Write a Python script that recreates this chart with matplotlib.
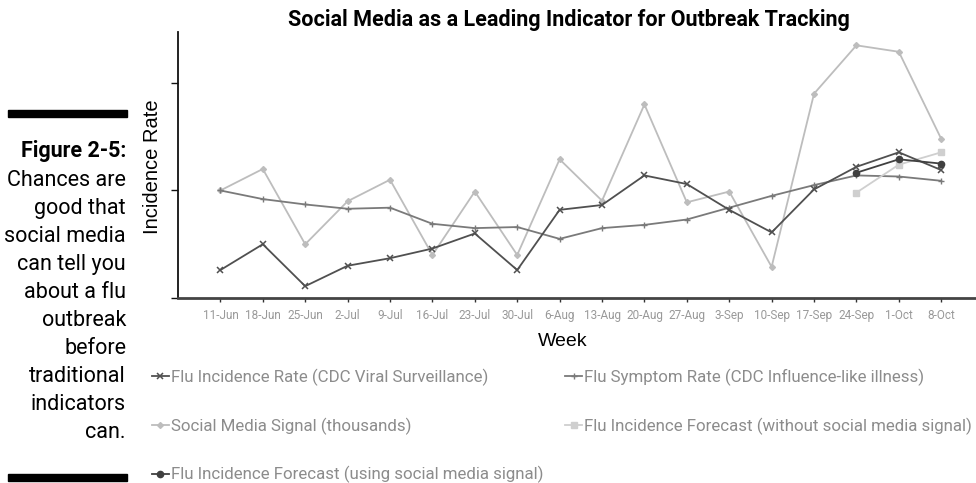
import matplotlib
matplotlib.use("Agg")
import matplotlib.pyplot as plt
from matplotlib import font_manager

names = {f.name for f in font_manager.fontManager.ttflist}
NARROW = "Liberation Sans Narrow" if "Liberation Sans Narrow" in names else "Roboto"
REG = "Liberation Sans"

weeks = ["11-Jun", "18-Jun", "25-Jun", "2-Jul", "9-Jul", "16-Jul", "23-Jul", "30-Jul",
         "6-Aug", "13-Aug", "20-Aug", "27-Aug", "3-Sep", "10-Sep", "17-Sep", "24-Sep",
         "1-Oct", "8-Oct"]
cdc_viral = [0.26, 0.50, 0.11, 0.30, 0.37, 0.46, 0.60, 0.26, 0.82, 0.865, 1.14, 1.06,
             0.82, 0.61, 1.01, 1.22, 1.355, 1.19]
symptom = [1.00, 0.92, 0.87, 0.83, 0.84, 0.69, 0.65, 0.66, 0.55, 0.65, 0.68, 0.73,
           0.84, 0.95, 1.05, 1.14, 1.13, 1.09]
social = [1.00, 1.20, 0.50, 0.90, 1.10, 0.40, 0.99, 0.40, 1.29, 0.905, 1.80, 0.89,
          0.99, 0.29, 1.90, 2.35, 2.29, 1.48]
forecast_weeks = ["24-Sep", "1-Oct", "8-Oct"]
forecast_without = [0.98, 1.24, 1.355]
forecast_with = [1.165, 1.29, 1.25]

labels = ["Flu Incidence Rate (CDC Viral Surveillance)",
          "Flu Symptom Rate (CDC Influence-like illness)",
          "Social Media Signal (thousands)",
          "Flu Incidence Forecast (without social media signal)",
          "Flu Incidence Forecast (using social media signal)"]

fig = plt.figure(figsize=(9.76, 4.83), dpi=100)
ax = fig.add_axes([178/976, 1-298/483, (976-178)/976, (298-32)/483])

x = list(range(len(weeks)))
fx = [weeks.index(w) for w in forecast_weeks]

l1, = ax.plot(x, cdc_viral, color="#505050", lw=1.3, marker="x", ms=4.5, mew=1.1, zorder=5)
l2, = ax.plot(x, symptom, color="#7a7a7a", lw=1.3, marker="+", ms=5, mew=1.0, zorder=4)
l3, = ax.plot(x, social, color="#bdbdbd", lw=1.3, marker="D", ms=3, zorder=3)
l4, = ax.plot(fx, forecast_without, color="#cfcfcf", lw=1.3, marker="s", ms=4.5, zorder=4)
l5, = ax.plot(fx, forecast_with, color="#404040", lw=1.3, marker="o", ms=4.5, zorder=6)

ax.set_xlim(-1, 17.82)
ax.set_ylim(0, 2.474)
ax.set_yticks([0, 1, 2])
ax.set_yticklabels([])
ax.set_xticks(x)
ax.set_xticklabels(weeks, fontsize=8.5, color="#999999", family=NARROW)
ax.tick_params(axis="x", length=3, width=1, color="#333333", pad=5)
ax.tick_params(axis="y", length=5, width=1, color="#111111")
for s in ["top", "right"]:
    ax.spines[s].set_visible(False)
ax.spines["left"].set_color("#111111")
ax.spines["left"].set_linewidth(1.3)
ax.spines["bottom"].set_color("#444444")
ax.spines["bottom"].set_linewidth(2)

fig.text(569/976, 1-20/483, "Social Media as a Leading Indicator for Outbreak Tracking",
         ha="center", va="center", fontsize=15.5, fontweight="bold", family=NARROW)
fig.text(563/976, 1-341/483, "Week", ha="center", va="center", fontsize=14, family=REG)
fig.text(152/976, 1-167/483, "Incidence Rate", ha="center", va="center", rotation=90,
         fontsize=14.5, family=REG)

leg = fig.legend([l1, l3, l5, l2, l4], [labels[0], labels[2], labels[4], labels[1], labels[3]],
                 loc="upper left", bbox_to_anchor=(152/976, 1-369/483), ncol=2, frameon=False,
                 handlelength=1.0, handletextpad=0.1, labelspacing=1.85, columnspacing=1.3,
                 prop={"family": NARROW, "size": 12.2}, borderaxespad=0, borderpad=0)
for t in leg.get_texts():
    t.set_color("#8c8c8c")

# side caption
fig.patches.append(plt.Rectangle((8/976, 1-117/483), 119/976, 7/483, transform=fig.transFigure,
                                 color="black"))
fig.patches.append(plt.Rectangle((8/976, 1-481/483), 119/976, 7/483, transform=fig.transFigure,
                                 color="black"))
fig.text(126/976, 1-151/483, "Figure 2-5:", ha="right", va="center", fontsize=15.5,
         fontweight="bold", family=NARROW)
caption = ["Chances are", "good that", "social media", "can tell you", "about a flu",
           "outbreak", "before", "traditional", "indicators", "can."]
for i, line in enumerate(caption):
    fig.text(126/976, 1-(180 + i*28.1)/483, line, ha="right", va="center", fontsize=15.5,
             family=NARROW)

fig.savefig("out.png", dpi=100)
